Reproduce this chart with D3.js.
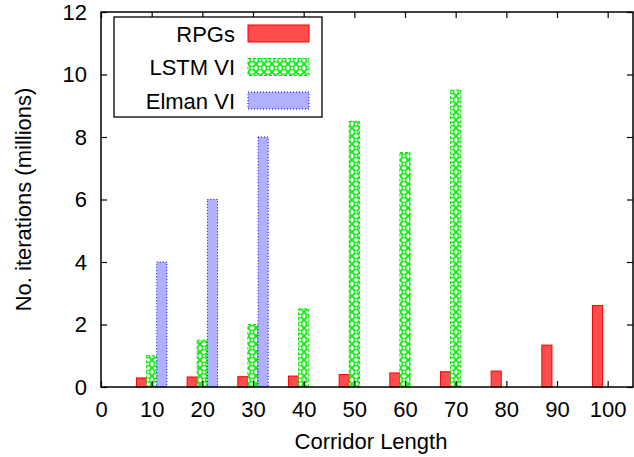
<!DOCTYPE html>
<html>
<head>
<meta charset="utf-8">
<script src="https://cdn.jsdelivr.net/npm/d3@7"></script>
<style>
  body { margin: 0; background: #fff; }
  text { font-family: "Liberation Sans", Arial, Helvetica, sans-serif; }
</style>
</head>
<body>
<script>
// corridor lengths and iterations (millions) per method
var lengths = [10, 20, 30, 40, 50, 60, 70, 80, 90, 100];
var rpgValues = [0.29, 0.32, 0.33, 0.35, 0.40, 0.45, 0.49, 0.51, 1.34, 2.61];
var lstmLengths = [10, 20, 30, 40, 50, 60, 70];
var lstmValues = [1.0, 1.5, 2.0, 2.5, 8.5, 7.5, 9.5];
var elmanLengths = [10, 20, 30];
var elmanValues = [4, 6, 8];
var xTicks = [0, 10, 20, 30, 40, 50, 60, 70, 80, 90, 100];
var yTicks = [0, 2, 4, 6, 8, 10, 12];
var seriesNames = ["RPGs", "LSTM VI", "Elman VI"];

var width = 634,
    height = 457;

var svg = d3.select("body")
    .append("svg")
    .attr("width", width)
    .attr("height", height);

// green crosshatch with rings, like the gnuplot fill pattern
var defs = svg.append("defs");
var pat = defs.append("pattern")
    .attr("id", "lstmPat")
    .attr("patternUnits", "userSpaceOnUse")
    .attr("width", 8)
    .attr("height", 8);
pat.append("rect").attr("width", 8).attr("height", 8).attr("fill", "#fff");
pat.append("path")
    .attr("d", "M0,0L8,8M8,0L0,8")
    .attr("stroke", "#00ee00")
    .attr("stroke-width", 1.6);
pat.append("circle")
    .attr("cx", 4).attr("cy", 4).attr("r", 2)
    .attr("fill", "#fff")
    .attr("stroke", "#00ee00")
    .attr("stroke-width", 1.2);

var x = d3.scaleLinear()
    .domain([0, 105])
    .range([101, 633]);

var y = d3.scaleLinear()
    .domain([0, 12])
    .range([387, 12]);

var barW = 2; // in data units

var styles = [
    { fill: "#ff4c4c", stroke: "#ff0000", dash: null, off: -2 },
    { fill: "url(#lstmPat)", stroke: "#00dd00", dash: "3,2", off: 0 },
    { fill: "#b0b0ff", stroke: "#0000ff", dash: "1,2", off: 2 }
];

function drawBars(ks, vs, st) {
    svg.append("g")
        .selectAll("rect")
        .data(ks.map(function(k, i) { return [k, vs[i]]; }))
        .enter().append("rect")
            .attr("x", function(d) { return x(d[0] + st.off - barW / 2); })
            .attr("width", function(d) { return x(barW) - x(0); })
            .attr("y", function(d) { return y(d[1]); })
            .attr("height", function(d) { return y(0) - y(d[1]); })
            .attr("fill", st.fill)
            .attr("stroke", st.stroke)
            .attr("stroke-width", 1)
            .attr("stroke-dasharray", st.dash);
}

drawBars(lengths, rpgValues, styles[0]);
drawBars(lstmLengths, lstmValues, styles[1]);
drawBars(elmanLengths, elmanValues, styles[2]);

// axes: inward ticks, mirrored on top and right
function styleAxis(g) {
    g.select(".domain").remove();
    g.selectAll("line").attr("stroke", "#000").attr("stroke-width", 1.2);
    g.selectAll("text")
        .attr("fill", "#000")
        .style("font-size", "22px")
        .style("font-family", "'Liberation Sans', Arial, sans-serif");
}

svg.append("g")
    .attr("transform", "translate(0," + y(0) + ")")
    .call(d3.axisBottom(x).tickValues(xTicks).tickSizeInner(-6).tickSizeOuter(0).tickPadding(14))
    .call(styleAxis);

svg.append("g")
    .attr("transform", "translate(0," + y(12) + ")")
    .call(d3.axisTop(x).tickValues(xTicks).tickSizeInner(-6).tickSizeOuter(0).tickFormat(""))
    .call(styleAxis);

svg.append("g")
    .attr("transform", "translate(" + x(0) + ",0)")
    .call(d3.axisLeft(y).tickValues(yTicks).tickSizeInner(-6).tickSizeOuter(0).tickPadding(14))
    .call(styleAxis);

svg.append("g")
    .attr("transform", "translate(" + x(105) + ",0)")
    .call(d3.axisRight(y).tickValues(yTicks).tickSizeInner(-6).tickSizeOuter(0).tickFormat(""))
    .call(styleAxis);

// plot border
svg.append("rect")
    .attr("x", x(0))
    .attr("y", y(12))
    .attr("width", x(105) - x(0))
    .attr("height", y(0) - y(12))
    .attr("fill", "none")
    .attr("stroke", "#000")
    .attr("stroke-width", 1.5);

// axis titles
svg.append("text")
    .attr("x", 371)
    .attr("y", 449)
    .attr("text-anchor", "middle")
    .style("font-size", "22px")
    .text("Corridor Length");

svg.append("text")
    .attr("transform", "translate(31," + (y(6)) + ") rotate(-90)")
    .attr("text-anchor", "middle")
    .style("font-size", "22px")
    .text("No. iterations (millions)");

// legend
var legend = svg.append("g").attr("class", "legend");

legend.append("rect")
    .attr("x", 114)
    .attr("y", 17)
    .attr("width", 208)
    .attr("height", 100)
    .attr("fill", "#fff")
    .attr("stroke", "#000")
    .attr("stroke-width", 1.3);

seriesNames.forEach(function(name, i) {
    var cy = 33.5 + i * 33.5;
    legend.append("rect")
        .attr("x", 248)
        .attr("y", cy - 8.5)
        .attr("width", 61)
        .attr("height", 17)
        .attr("fill", styles[i].fill)
        .attr("stroke", styles[i].stroke)
        .attr("stroke-width", 1)
        .attr("stroke-dasharray", styles[i].dash);
    legend.append("text")
        .attr("x", 235)
        .attr("y", cy + 8)
        .attr("text-anchor", "end")
        .style("font-size", "22px")
        .text(name);
});
</script>
</body>
</html>
